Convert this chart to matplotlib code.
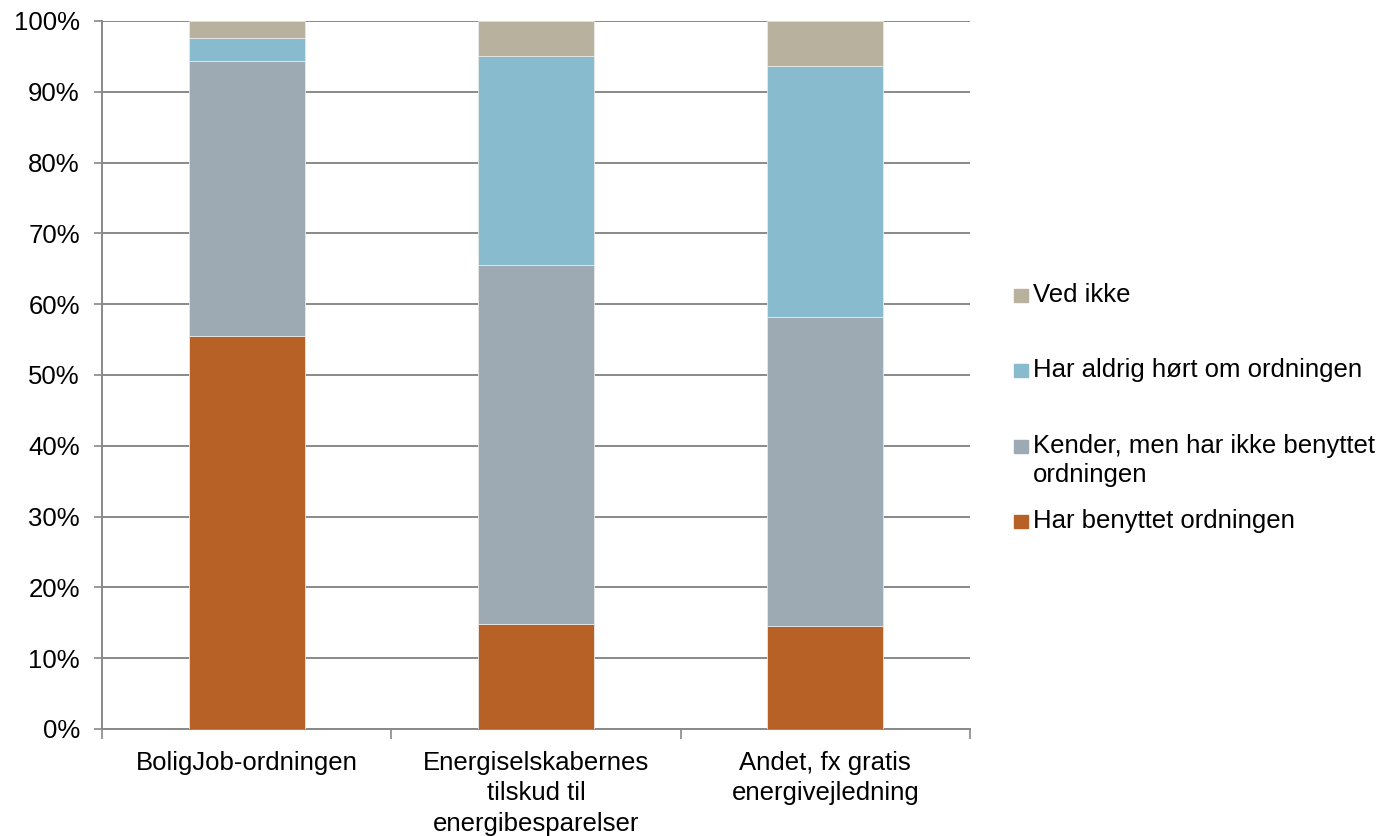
import matplotlib.pyplot as plt
from matplotlib.patches import Rectangle

plt.rcParams['font.family'] = ['Liberation Sans', 'DejaVu Sans']

categories = ['BoligJob-ordningen',
              'Energiselskabernes\ntilskud til\nenergibesparelser',
              'Andet, fx gratis\nenergivejledning']
series_labels = ['Har benyttet ordningen',
                 'Kender, men har ikke benyttet\nordningen',
                 'Har aldrig hørt om ordningen',
                 'Ved ikke']
har_benyttet = [55.5, 14.8, 14.5]
kender = [38.9, 50.7, 43.7]
aldrig_hoert = [3.2, 29.6, 35.4]
ved_ikke = [2.4, 4.9, 6.4]
series_values = [har_benyttet, kender, aldrig_hoert, ved_ikke]
colors = ['#B86126', '#9DAAB3', '#88BBCD', '#B7B19D']

grid_col = '#898989'
fs = 18.5

fig = plt.figure(figsize=(13.94, 8.36), dpi=100)
ax = fig.add_axes([102 / 1394, 107 / 836, 868 / 1394, 708 / 836])

x = list(range(len(categories)))
bottom = [0, 0, 0]
for vals, col in zip(series_values, colors):
    ax.bar(x, vals, width=0.4, bottom=bottom, color=col,
           edgecolor='#E8E8E8', linewidth=0.6, zorder=3)
    bottom = [b + v for b, v in zip(bottom, vals)]

ax.set_xlim(-0.5, len(categories) - 0.5)
ax.set_ylim(0, 100)
ax.set_yticks(range(0, 101, 10))
ax.set_yticklabels([f'{v}%' for v in range(0, 101, 10)], fontsize=fs)
ax.set_xticks(x)
ax.set_xticklabels(categories, fontsize=fs, linespacing=1.33)
ax.set_xticks([i - 0.5 for i in range(len(categories) + 1)], minor=True)
ax.tick_params(axis='x', which='major', length=0, pad=16)
ax.tick_params(axis='x', which='minor', length=7, width=1.2, color=grid_col)
ax.tick_params(axis='y', length=6, width=1.2, color=grid_col, pad=10)
ax.grid(axis='y', color=grid_col, linewidth=1.4, zorder=0)
ax.set_axisbelow(True)
for side in ['top', 'right']:
    ax.spines[side].set_visible(False)
ax.spines['left'].set_color(grid_col)
ax.spines['left'].set_linewidth(1.4)
ax.spines['bottom'].set_color(grid_col)
ax.spines['bottom'].set_linewidth(1.4)

# legend drawn by hand, top entry first
legend_y = [295, 370, 446, 521]
for lab, col, yp in zip(series_labels[::-1], colors[::-1], legend_y):
    fig.patches.append(Rectangle((1014 / 1394, (836 - yp - 7) / 836), 14 / 1394, 13 / 836,
                                 transform=fig.transFigure, color=col))
    fig.text(1033 / 1394, (836 - yp + 12) / 836, lab, fontsize=fs, va='top',
             ha='left', linespacing=1.28)

fig.savefig('out.png', dpi=100)
